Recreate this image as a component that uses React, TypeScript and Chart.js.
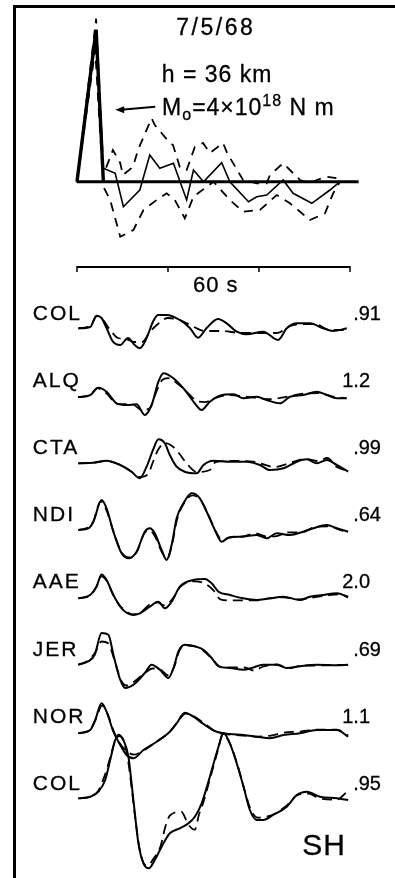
import React, { useEffect, useRef } from "react";
import { Chart, registerables } from "chart.js";

Chart.register(...registerables);

// ---------- data (time in s, amplitude in relative units) ----------
const STATIONS = ["COL", "ALQ", "CTA", "NDI", "AAE", "JER", "NOR", "COL"];
const AMP_RATIOS = [".91", "1.2", ".99", ".64", "2.0", ".69", "1.1", ".95"];

const TITLE_DATE = "7/5/68";
const TITLE_DEPTH = "h = 36 km";
const SCALE_LABEL = "60 s";
const SCALE_TICKS = [0, 20, 40, 60];
const WAVE_TYPE = "SH";

// source time function (moment rate), relative amplitude
const STF_AXIS = [-0.1, 61.9];
const STF_PULSE = [[0, 0], [4.2, 15.2], [5.8, 0]];
const STF_BEST = [
  [5.8, 1.34], [8.4, 0.84], [10.2, -2.5], [13.8, -0.83], [16.0, 2.67], [18.2, 1.34],
  [21.2, 1.84], [24.1, -1.83], [25.6, 1.17], [27.8, 0], [31.8, 1.9], [33.6, 0],
  [37.7, -2.0], [39.5, -1.5], [41.7, -1.33], [45.3, 0.17], [47.5, -1.16], [51.6, -2.16],
  [55.6, -0.83], [57.8, 0],
];
const STF_UPPER = [
  [0, 0], [4.2, 16.3], [5.8, 1.17], [6.2, 1.17], [7.9, 3.17], [9.5, 1.87], [10.1, 0.67],
  [12.3, 1.47], [13.4, 3.17], [16.4, 6.34], [17.1, 5.67], [20.4, 3.87], [21.1, 3.67],
  [22.6, 1.47], [24.1, 1.17], [25.9, 3.47], [27.7, 3.87], [29.2, 2.87], [32.1, 3.87],
  [33.0, 2.87], [36.5, 0.17], [39.5, -0.16], [41.7, -0.16], [42.4, 0.67], [45.3, 1.84],
  [46.8, 1.17], [49.0, 0.17], [51.2, -0.13], [52.7, 0.17], [54.9, 0.5], [57.1, 0.34], [57.8, 0],
];
const STF_LOWER = [
  [0, 0], [4.0, 13.2], [5.8, -0.5], [7.3, -1.83], [9.5, -5.5], [12.4, -4.83], [14.6, -2.83],
  [17.5, -1.83], [19.7, -1.16], [21.5, -1.83], [23.7, -3.66], [25.6, -1.5], [30.0, 0],
  [33.6, -1.83], [36.5, -3.0], [40.2, -2.83], [43.9, -1.33], [46.8, -2.16], [51.2, -3.83],
  [54.5, -3.16], [56.3, -1.16], [57.8, 0],
];

// seismograms: observed (solid) and synthetic (dashed)
const COL1_OBS = [
  [0.3, 0.17], [2.9, 0.3], [4.3, 1.43], [5.4, 1.2], [6.5, 0.2], [7.9, -1.17], [9.5, -1.5],
  [11.2, -0.8], [12.7, -1.5], [13.8, -1.83], [15.3, -0.8], [16.7, 0.83], [17.8, 1.5],
  [19.7, 1.5], [22.6, 1.0], [24.8, 0.2], [26.6, -0.77], [28.5, 0.2], [31.0, 1.1],
  [32.9, 0.67], [35.1, -0.17], [37.3, -0.43], [40.9, -0.17], [44.2, -1.0], [46.1, 0.17],
  [48.3, 0.67], [51.2, 0.67], [54.1, 0.17], [56.3, -0.1], [59.3, 0.17],
];
const COL1_SYN = [
  [0.3, 0.17], [2.9, 0.4], [4.4, 1.4], [5.7, 1.0], [7.3, 0], [9.0, -0.8], [10.8, -0.9],
  [12.5, -1.2], [14.3, -1.2], [16.0, -0.2], [17.8, 0.6], [20.0, 1.2], [22.6, 1.0],
  [25.7, 0.3], [28.1, -0.1], [32.1, -0.1], [35.8, -0.3], [40.2, -0.3], [44.0, -0.3],
  [46.8, 0.4], [49.7, 0.6], [52.3, 0.6], [55.6, 0], [59.1, 0],
];
const ALQ_OBS = [
  [0.3, 0], [2.9, 0.2], [4.7, 0.94], [6.5, 0.54], [8.7, -0.62], [10.9, -0.79], [13.1, -0.72],
  [14.9, -1.79], [16.4, -0.79], [17.9, 1.54], [19.0, 2.38], [21.2, 1.88], [23.7, 0.71],
  [25.9, -0.62], [27.4, -1.29], [29.2, -0.46], [31.4, 0.14], [34.4, 0.28], [36.6, -0.12],
  [39.5, 0.04], [41.7, -0.29], [44.6, -0.62], [46.8, 0.04], [49.7, 0.21], [52.7, 0.54],
  [54.9, 0.21], [57.1, -0.12], [59.3, -0.12],
];
const ALQ_SYN = [
  [0.2, 0], [2.9, 0.2], [4.4, 0.9], [6.4, 0.4], [9.0, -0.7], [12.1, -0.7], [14.3, -1.3],
  [16.0, -1.1], [17.4, 0.5], [18.7, 1.7], [20.0, 1.9], [22.2, 1.3], [24.4, 0.4],
  [26.4, -0.4], [28.1, -0.5], [30.3, -0.1], [33.6, 0.2], [38.0, 0], [42.4, -0.2],
  [45.7, 0], [49.0, 0.3], [53.0, 0.4], [56.7, 0], [59.1, -0.1],
];
const CTA_OBS = [
  [0.3, 0.09], [3.6, 0.15], [6.5, 0.35], [9.5, -0.08], [12.0, -0.75], [13.8, -1.41],
  [15.3, -0.25], [16.7, 1.42], [17.9, 2.49], [19.3, 2.09], [20.4, 0.92], [21.9, -0.25],
  [23.7, -0.75], [26.3, -0.91], [27.8, -0.08], [29.9, 0.35], [33.6, 0.25], [37.3, 0.25],
  [40.2, -0.08], [42.4, -0.58], [45.4, -0.41], [48.3, 0.25], [50.5, 0.49], [52.7, 0.09],
  [54.9, 0.42], [57.1, -0.08], [59.6, -0.75],
];
const CTA_SYN = [
  [0.3, 0.09], [3.5, 0.15], [6.4, 0.32], [9.5, -0.08], [12.1, -0.78], [13.8, -1.28],
  [15.6, -0.98], [16.7, 0.22], [17.8, 1.42], [19.3, 2.12], [20.9, 1.82], [22.2, 1.22],
  [24.4, -0.08], [26.4, -0.78], [29.2, -0.58], [30.5, 0.22], [34.7, 0.32], [39.1, 0.22],
  [43.5, -0.28], [46.8, 0.12], [50.1, 0.52], [53.0, 0.32], [55.0, 0.62], [57.1, -0.28],
  [59.6, -0.68],
];
const NDI_OBS = [
  [0.3, 0.13], [2.5, 0.3], [3.6, 0.96], [5.4, 3.13], [6.5, 2.3], [8.0, -0.04], [9.8, -2.2],
  [11.3, -2.7], [13.1, -2.04], [14.9, -0.04], [16.0, 0.3], [17.1, -0.2], [18.6, -1.87],
  [19.7, -2.87], [20.8, -1.37], [21.9, 1.3], [23.4, 2.8], [25.2, 3.8], [27.0, 3.3],
  [28.5, 1.96], [30.3, 0.13], [31.8, -1.04], [33.3, -0.64], [36.5, -0.54], [39.5, -0.37],
  [41.7, -0.7], [43.9, -0.2], [46.8, -0.37], [49.7, -0.04], [51.9, 0.3], [54.9, 0.63],
  [57.1, 0.3], [59.6, -0.04],
];
const NDI_SYN = [
  [0.3, 0.13], [2.5, 0.4], [3.6, 1.0], [5.2, 3.0], [6.4, 2.2], [8.0, 0.0], [9.8, -2.1],
  [11.5, -2.6], [13.1, -2.1], [14.8, -0.2], [15.8, 0.1], [17.0, -0.4], [18.8, -2.2],
  [19.9, -2.7], [20.9, -1.3], [22.0, 1.2], [23.5, 2.8], [25.4, 3.6], [27.2, 3.1],
  [28.7, 1.8], [30.6, -0.1], [31.9, -0.9], [33.5, -0.6], [36.5, -0.5], [39.3, -0.2],
  [41.5, -0.5], [43.5, -0.5], [46.5, -0.1], [49.5, -0.1], [52.0, 0.4], [55.0, 0.5],
  [57.5, 0.2], [59.6, -0.1],
];
const AAE_OBS = [
  [0.3, 0.01], [2.9, 0.34], [4.3, 1.17], [5.4, 2.4], [6.5, 1.84], [8.0, 0.34], [9.8, -0.99],
  [12.4, -1.66], [13.8, -1.49], [16.0, -0.83], [17.9, -0.33], [19.3, -0.99], [20.8, -0.33],
  [22.6, 1.17], [25.6, 1.84], [28.1, 1.94], [29.6, 1.51], [31.1, 0.67], [33.6, 0.34],
  [36.5, 0.01], [39.5, -0.16], [42.4, 0.01], [45.4, 0.17], [49.0, -0.16], [51.2, 0.17],
  [54.1, 0.34], [57.1, 0.51], [59.6, 0.17],
];
const AAE_SYN = [
  [0.3, 0.01], [2.9, 0.3], [4.4, 1.3], [5.3, 2.2], [6.6, 1.7], [8.1, 0.2], [10.0, -1.0],
  [12.4, -1.6], [14.0, -1.4], [16.0, -0.6], [17.6, -0.4], [19.2, -0.7], [20.9, -0.1],
  [22.8, 1.2], [25.8, 1.7], [28.0, 1.5], [30.0, 0.8], [31.5, -0.1], [33.6, -0.2],
  [36.5, -0.2], [39.5, -0.2], [42.4, 0.0], [45.4, 0.1], [49.0, -0.1], [52.0, 0.1],
  [55.0, 0.3], [57.5, 0.4], [59.6, 0.1],
];
const JER_OBS = [
  [0.3, 0.08], [2.5, 0.42], [3.9, 1.08], [5.4, 3.25], [6.9, 3.08], [8.0, 1.08], [9.5, -1.42],
  [10.6, -2.25], [12.4, -1.92], [14.9, -0.75], [16.4, 0.08], [18.2, -0.42], [20.1, -1.25],
  [21.2, -0.25], [22.3, 1.42], [23.7, 2.08], [25.9, 1.92], [27.8, 1.58], [29.6, 0.75],
  [31.1, -0.08], [33.6, -0.25], [36.6, -0.42], [38.4, -0.25], [40.9, 0.08], [43.9, 0.08],
  [46.1, -0.25], [49.0, -0.08], [52.7, 0.08], [57.1, 0.02], [59.6, 0.08],
];
const JER_SYN = [
  [0.3, 0.08], [2.5, 0.5], [4.0, 1.3], [5.4, 2.4], [6.9, 2.2], [8.2, 0.6], [9.7, -1.5],
  [10.9, -2.0], [12.6, -1.6], [14.8, -0.8], [16.6, -0.3], [18.3, -0.4], [20.1, -1.0],
  [21.4, -0.1], [22.5, 1.5], [24.0, 2.0], [26.0, 1.9], [28.0, 1.4], [29.8, 0.6],
  [31.4, -0.1], [34.0, -0.2], [36.8, -0.2], [38.8, -0.5], [41.0, -0.1], [44.0, 0.1],
  [46.5, -0.3], [49.5, 0.0], [53.0, 0.0], [57.1, 0.05], [59.6, 0.05],
];
const NOR_OBS = [
  [0.3, -0.07], [2.9, 0.26], [4.0, 1.26], [5.4, 2.93], [6.5, 2.09], [8.0, 0.09], [9.5, -1.24],
  [10.9, -2.24], [12.4, -2.57], [14.6, -1.74], [17.5, -0.91], [20.4, 0.09], [21.9, 0.93],
  [23.7, 1.99], [25.6, 1.59], [27.8, 0.86], [30.7, 0.09], [33.6, -0.14], [36.6, -0.24],
  [39.5, -0.41], [42.4, -0.57], [45.4, -0.24], [49.0, -0.07], [52.7, 0.26], [57.1, 0.26],
  [59.6, -0.41],
];
const NOR_SYN = [
  [0.3, -0.07], [2.9, 0.3], [4.1, 1.3], [5.5, 2.7], [6.6, 2.0], [8.2, 0.0], [9.6, -1.2],
  [11.0, -1.9], [12.5, -2.2], [14.6, -1.8], [17.5, -0.9], [20.4, 0.1], [22.0, 1.0],
  [23.9, 1.9], [25.8, 1.6], [28.0, 0.9], [30.9, 0.0], [33.8, -0.2], [36.8, -0.3],
  [39.7, -0.4], [42.6, -0.3], [45.5, 0.0], [49.0, 0.1], [52.7, 0.3], [57.1, 0.3], [59.6, -0.3],
];
const COL2_OBS = [
  [0.3, 0.14], [2.9, 0.3], [4.7, 0.8], [6.2, 1.97], [7.3, 3.97], [8.4, 5.97], [9.3, 6.37],
  [10.2, 5.97], [11.3, 4.3], [12.0, 1.64], [12.8, -1.7], [13.5, -4.36], [14.6, -6.36],
  [15.8, -6.86], [17.1, -6.03], [18.6, -4.7], [20.4, -3.36], [22.6, -2.86], [24.5, -2.36],
  [25.9, -1.7], [27.4, -0.36], [29.2, 2.3], [31.1, 5.3], [32.2, 6.64], [33.6, 5.64],
  [35.1, 3.64], [36.6, 1.3], [38.0, -1.03], [39.5, -2.03], [40.9, -2.03], [43.1, -1.53],
  [46.1, -0.7], [48.3, 0.47], [50.5, 0.8], [53.4, 0.3], [57.1, 0.14], [59.6, -0.03],
];
const COL2_SYN = [
  [0.3, 0.14], [2.9, 0.3], [4.7, 0.9], [6.0, 2.3], [7.3, 4.2], [8.3, 5.8], [9.1, 6.5],
  [10.1, 6.0], [11.2, 4.0], [12.0, 1.2], [12.9, -2.2], [13.7, -4.8], [14.6, -6.3],
  [15.5, -6.6], [16.8, -5.9], [18.4, -4.6], [19.3, -2.9], [20.4, -1.6], [22.9, -1.2],
  [24.5, -2.5], [25.9, -3.0], [26.8, -1.5], [27.6, -0.5], [29.3, 2.2], [31.0, 5.0],
  [32.0, 6.5], [33.3, 5.9], [35.0, 3.9], [36.8, 1.0], [38.2, -1.0], [39.7, -1.8],
  [41.5, -1.7], [43.5, -1.4], [46.3, -0.5], [48.6, 0.5], [50.8, 0.6], [53.5, 0.1],
  [57.0, 0.0], [59.6, 0.9],
];

const OBSERVED = [COL1_OBS, ALQ_OBS, CTA_OBS, NDI_OBS, AAE_OBS, JER_OBS, NOR_OBS, COL2_OBS];
const SYNTHETIC = [COL1_SYN, ALQ_SYN, CTA_SYN, NDI_SYN, AAE_SYN, JER_SYN, NOR_SYN, COL2_SYN];

// ---------- layout constants ----------
const X_MIN = -16.92;
const X_MAX = 69.89;
const Y_MIN = -54.8;
const Y_MAX = 33.0;
const ROW_STEP = 6.71;
const STF_BASE = 14.83;
const SCALE_LEVEL = 6.3;
const FONT = "'Liberation Sans', Arial, Helvetica, sans-serif";
const INK = "#000";

const rowBase = (i: number) => -ROW_STEP * i;
const toXY = (pts: number[][], off: number) => pts.map(([t, a]) => ({ x: t, y: off + a }));

const lineDs = (data: any[], opts: any = {}) => ({
  data,
  borderColor: INK,
  borderWidth: 1.8,
  pointRadius: 0,
  fill: false,
  tension: 0,
  ...opts,
});

function buildDatasets() {
  const ds: any[] = [];
  ds.push(lineDs(toXY(STF_AXIS.map((t) => [t, 0]), STF_BASE), { borderWidth: 3 }));
  ds.push(lineDs(toXY(STF_PULSE, STF_BASE), { borderWidth: 3.4 }));
  ds.push(lineDs(toXY(STF_BEST, STF_BASE), { borderWidth: 1.6 }));
  ds.push(lineDs(toXY(STF_UPPER, STF_BASE), { borderWidth: 1.8, borderDash: [9, 7] }));
  ds.push(lineDs(toXY(STF_LOWER, STF_BASE), { borderWidth: 1.8, borderDash: [9, 7] }));
  OBSERVED.forEach((pts, i) => {
    ds.push(lineDs(toXY(pts, rowBase(i)), { cubicInterpolationMode: "monotone", borderWidth: 2 }));
  });
  SYNTHETIC.forEach((pts, i) => {
    ds.push(
      lineDs(toXY(pts, rowBase(i)), {
        cubicInterpolationMode: "monotone",
        borderWidth: 1.8,
        borderDash: [10, 6],
      })
    );
  });
  return ds;
}

function drawText(ctx: any, s: string, x: number, y: number) {
  ctx.fillText(s, x, y);
  ctx.strokeText(s, x, y);
}

const annotationPlugin = {
  id: "figureAnnotations",
  afterDatasetsDraw(chart: any) {
    const { ctx, scales } = chart;
    const px = (t: number) => scales.x.getPixelForValue(t);
    const py = (v: number) => scales.y.getPixelForValue(v);
    ctx.save();
    ctx.strokeStyle = INK;
    ctx.fillStyle = INK;

    // frame (left and top rules)
    ctx.lineWidth = 3;
    ctx.setLineDash([]);
    ctx.beginPath();
    ctx.moveTo(14.5, chart.height);
    ctx.lineTo(14.5, 6.5);
    ctx.lineTo(chart.width, 6.5);
    ctx.stroke();

    // time scale bar
    const yb = py(SCALE_LEVEL);
    ctx.lineWidth = 2;
    ctx.beginPath();
    ctx.moveTo(px(SCALE_TICKS[0]), yb);
    ctx.lineTo(px(SCALE_TICKS[SCALE_TICKS.length - 1]), yb);
    ctx.stroke();
    ctx.lineWidth = 1.5;
    SCALE_TICKS.forEach((t) => {
      ctx.beginPath();
      ctx.moveTo(px(t), yb - 1);
      ctx.lineTo(px(t), yb + 5);
      ctx.stroke();
    });

    // arrow pointing at the source pulse
    const ax0 = px(17.2), ay0 = py(STF_BASE + 7.5);
    const ax1 = px(8.4), ay1 = py(STF_BASE + 7.2);
    ctx.lineWidth = 2;
    ctx.beginPath();
    ctx.moveTo(ax0, ay0);
    ctx.lineTo(ax1 + 6, ay1);
    ctx.stroke();
    ctx.beginPath();
    ctx.moveTo(ax1, ay1);
    ctx.lineTo(ax1 + 9, ay1 - 3.5);
    ctx.lineTo(ax1 + 9, ay1 + 3.5);
    ctx.closePath();
    ctx.fill();

    // titles
    ctx.lineWidth = 0.3;
    ctx.textBaseline = "alphabetic";
    ctx.textAlign = "center";
    ctx.font = `23px ${FONT}`;
    (ctx as any).letterSpacing = "2.5px";
    drawText(ctx, TITLE_DATE, px(30.5), py(29.5));
    (ctx as any).letterSpacing = "1px";
    drawText(ctx, TITLE_DEPTH, px(30.8), py(24.8));

    // M0 = 4 x 10^18 N m
    ctx.textAlign = "left";
    (ctx as any).letterSpacing = "1px";
    let cx = px(18.7);
    const by = py(21.5);
    const parts = [
      { s: "M", size: 23, dy: 0 },
      { s: "o", size: 16, dy: 5 },
      { s: "=4×10", size: 23, dy: 0 },
      { s: "18", size: 16, dy: -9 },
      { s: " N m", size: 23, dy: 0 },
    ];
    parts.forEach((p) => {
      ctx.font = `${p.size}px ${FONT}`;
      drawText(ctx, p.s, cx, by + p.dy);
      cx += ctx.measureText(p.s).width;
    });

    // scale label
    ctx.textAlign = "center";
    ctx.font = `22px ${FONT}`;
    (ctx as any).letterSpacing = "1px";
    drawText(ctx, SCALE_LABEL, px(30.5), py(3.8));

    // station names and amplitude ratios
    STATIONS.forEach((name, i) => {
      const yy = py(rowBase(i) + 1.0);
      ctx.font = `21px ${FONT}`;
      ctx.textAlign = "left";
      (ctx as any).letterSpacing = "2px";
      drawText(ctx, name, px(-9.7), yy);
      (ctx as any).letterSpacing = "0px";
      ctx.font = `20px ${FONT}`;
      const r = AMP_RATIOS[i];
      ctx.textAlign = "right";
      drawText(ctx, r, px(r.startsWith(".") ? 66.8 : 64.4), yy);
    });

    // wave type
    ctx.textAlign = "left";
    ctx.font = `30px ${FONT}`;
    (ctx as any).letterSpacing = "1px";
    drawText(ctx, WAVE_TYPE, px(49.5), py(-52.5));

    ctx.restore();
  },
};

export default function App() {
  const canvasRef = useRef<HTMLCanvasElement | null>(null);

  useEffect(() => {
    document.body.style.margin = "0";
    const canvas = canvasRef.current;
    if (!canvas) return;
    const chart = new Chart(canvas, {
      type: "line",
      data: { datasets: buildDatasets() },
      options: {
        animation: false,
        responsive: false,
        maintainAspectRatio: false,
        devicePixelRatio: 1,
        events: [],
        layout: { padding: 0 },
        plugins: { legend: { display: false }, tooltip: { enabled: false } },
        scales: {
          x: { type: "linear", min: X_MIN, max: X_MAX, display: false },
          y: { type: "linear", min: Y_MIN, max: Y_MAX, display: false },
        },
      },
      plugins: [annotationPlugin],
    });
    return () => chart.destroy();
  }, []);

  return (
    <div style={{ position: "absolute", left: 0, top: 0, width: 395, height: 878, background: "#fff" }}>
      <canvas ref={canvasRef} width={395} height={878} style={{ display: "block" }} />
    </div>
  );
}
